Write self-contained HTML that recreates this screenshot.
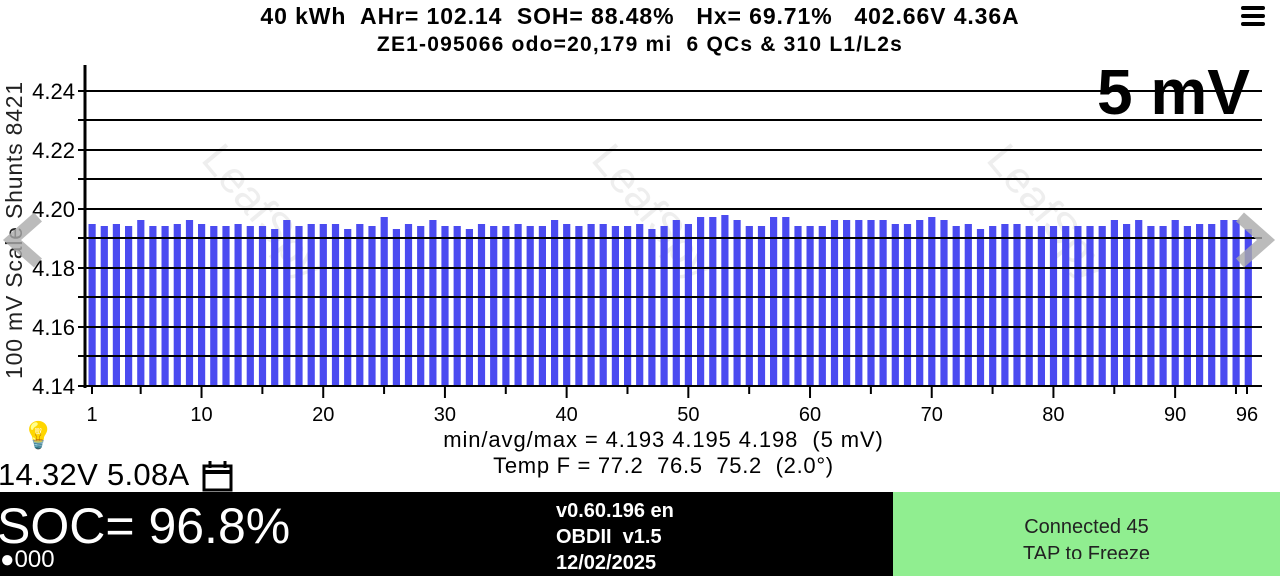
<!DOCTYPE html>
<html><head><meta charset="utf-8"><style>
body{margin:0;width:1280px;height:576px;overflow:hidden;background:#fff;font-family:"Liberation Sans",sans-serif;position:relative}
.t{position:absolute;white-space:nowrap}
</style></head><body>
<div class="t" style="left:0;width:1280px;top:3px;text-align:center;font-weight:bold;font-size:23px;letter-spacing:0.9px">40 kWh&nbsp; AHr= 102.14&nbsp; SOH= 88.48%&nbsp;&nbsp; Hx= 69.71%&nbsp;&nbsp; 402.66V 4.36A</div>
<div class="t" style="left:0;width:1280px;top:33px;text-align:center;font-weight:bold;font-size:21px;letter-spacing:1.2px">ZE1-095066 odo=20,179 mi&nbsp; 6 QCs &amp; 310 L1/L2s</div>
<div class="t" style="left:1241px;top:6px;width:24px">
<div style="height:4px;background:#000;margin-bottom:4px;border-radius:2px"></div><div style="height:4px;background:#000;margin-bottom:4px;border-radius:2px"></div><div style="height:4px;background:#000;border-radius:2px"></div></div>
<svg id="s" width="1280" height="576" style="position:absolute;left:0;top:0"></svg>
<div class="t" style="left:1097px;top:55px;font-weight:bold;font-size:64px">5 mV</div>
<div class="t" style="left:0;width:1280px;top:427px;text-align:center;font-size:22px;letter-spacing:0.9px;padding-left:47px;box-sizing:border-box">min/avg/max = 4.193 4.195 4.198&nbsp; (5 mV)</div>
<div class="t" style="left:0;width:1280px;top:453px;text-align:center;font-size:22px;letter-spacing:0.7px;padding-left:47px;box-sizing:border-box">Temp F = 77.2&nbsp; 76.5&nbsp; 75.2&nbsp; (2.0°)</div>
<div class="t" style="left:-2px;top:457px;font-size:31px;letter-spacing:0.3px">14.32V 5.08A</div>
<div class="t" style="left:22px;top:420px;font-size:26px">💡</div>
<div style="position:absolute;left:0;top:492px;width:893px;height:84px;background:#000"></div>
<div style="position:absolute;left:893px;top:492px;width:387px;height:84px;background:#90ee90"></div>
<div class="t" style="left:-3px;top:497px;font-size:50px;color:#fff">SOC= 96.8%</div>
<div class="t" style="left:0;top:546px;font-size:24px;color:#fff">●000</div>
<div class="t" style="left:556px;top:498px;font-size:20px;color:#fff;font-weight:bold;line-height:26px">v0.60.196 en<br>OBDII&nbsp; v1.5<br>12/02/2025</div>
<div style="position:absolute;left:893px;top:492px;width:387px;height:67px;overflow:hidden"><div class="t" style="left:0;width:387px;text-align:center;top:22px;font-size:20px;line-height:27px;color:#222">Connected 45<br>TAP to Freeze</div></div>
<script>
var tops=[224,226,224,226,220,226,226,224,220,224,226,226,224,226,226,229,220,226,224,224,224,229,224,226,217,229,224,226,220,226,226,229,224,226,226,224,226,226,220,224,226,224,224,226,226,224,229,226,220,224,217,217,215,220,226,226,217,217,226,226,226,220,220,220,220,220,224,224,220,217,220,226,224,229,226,224,224,226,226,226,226,226,226,226,220,224,220,226,226,220,226,224,224,220,220,229];
var h='';
[[200,160],[590,160],[985,160]].forEach(function(p){h+='<text x="'+p[0]+'" y="'+p[1]+'" transform="rotate(50 '+p[0]+' '+p[1]+')" font-size="44" fill="#eee" font-family="Liberation Sans">LeafSpy</text>';});
for(var i=0;i<96;i++){var x=92+i*12.17-3.5;h+='<rect x="'+x.toFixed(1)+'" y="'+tops[i]+'" width="7.2" height="'+(386-tops[i])+'" fill="#4b4bf0"/>';}
var g=[91,120,150,179,209,238,268,297,327,356,386];
g.forEach(function(y,k){h+='<line x1="78" x2="1262" y1="'+y+'" y2="'+y+'" stroke="#000" stroke-width="2"/>';
if(k%2==0)h+='<text x="75" y="'+(y+8)+'" text-anchor="end" font-size="22" font-family="Liberation Sans">'+(4.24-k*0.01).toFixed(2)+'</text>';});
h+='<line x1="85" x2="85" y1="65" y2="388" stroke="#000" stroke-width="3"/>';
for(var n=1;n<=96;n++){if(n==1||n%5==0){var x=92+(n-1)*12.17;var big=(n%10==0);h+='<line x1="'+x+'" x2="'+x+'" y1="386" y2="'+(big?398:394)+'" stroke="#000" stroke-width="2"/>';
if(n==1||big)h+='<text x="'+x+'" y="421" text-anchor="middle" font-size="20" font-family="Liberation Sans">'+n+'</text>';}}
h+='<line x1="1247" x2="1247" y1="386" y2="394" stroke="#000" stroke-width="2"/><text x="1247" y="421" text-anchor="middle" font-size="20" font-family="Liberation Sans">96</text>';
h+='<text transform="translate(22 230) rotate(-90)" text-anchor="middle" font-size="23" letter-spacing="0.8" font-family="Liberation Sans" fill="#222">100 mV Scale  Shunts 8421</text>';
h+='<polyline points="38,217 12,240 38,263" fill="none" stroke="#aaa" stroke-opacity="0.8" stroke-width="12"/>';
h+='<polyline points="1240,217 1266,240 1240,263" fill="none" stroke="#aaa" stroke-opacity="0.8" stroke-width="12"/>';
h+='<rect x="204" y="466" width="27" height="24" fill="none" stroke="#000" stroke-width="3"/><line x1="204" x2="231" y1="472" y2="472" stroke="#000" stroke-width="4"/><line x1="210" x2="210" y1="461" y2="468" stroke="#000" stroke-width="3"/><line x1="225" x2="225" y1="461" y2="468" stroke="#000" stroke-width="3"/>';
document.getElementById('s').innerHTML=h;
</script>
</body></html>
